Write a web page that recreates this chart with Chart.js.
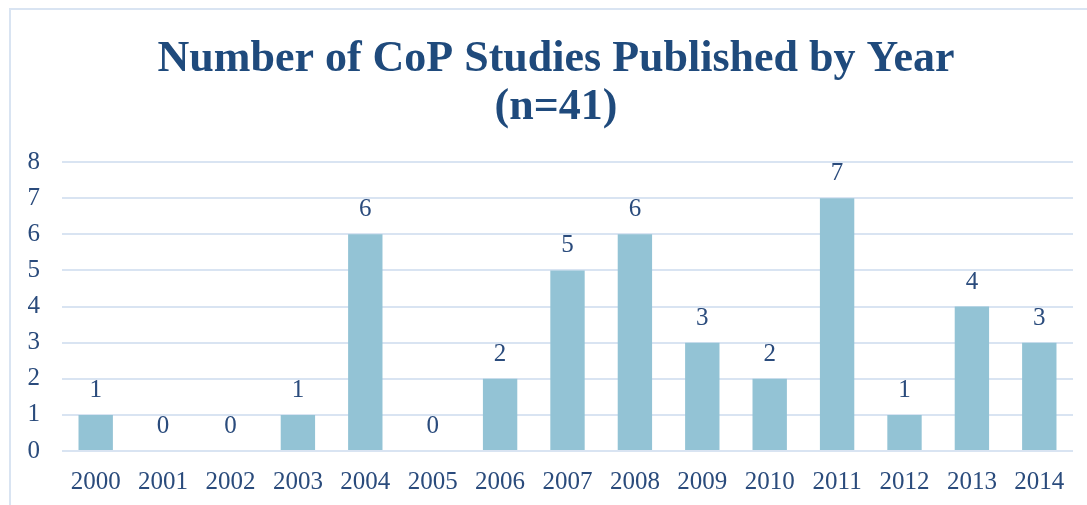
<!DOCTYPE html>
<html lang="en">
<head>
    <meta charset="UTF-8">
    <title>Number of CoP Studies Published by Year</title>
    <style>
        body {
            margin: 0;
            background-color: #fff;
            overflow: hidden;
        }
        .frame {
            position: absolute;
            left: 9px;
            top: 8px;
            width: 1100px;
            height: 520px;
            border: 2px solid #d9e4f2;
        }
        .chart-box {
            position: absolute;
            left: 0;
            top: 0;
            width: 1087px;
            height: 505px;
        }
    </style>
</head>
<body>
    <div class="frame"></div>
    <div class="chart-box"><canvas id="chart"></canvas></div>
    <script src="https://cdn.jsdelivr.net/npm/chart.js"></script>
    <script>
        const years = ['2000', '2001', '2002', '2003', '2004', '2005', '2006', '2007', '2008', '2009', '2010', '2011', '2012', '2013', '2014'];
        const studies = [1, 0, 0, 1, 6, 0, 2, 5, 6, 3, 2, 7, 1, 4, 3];
        const titleLines = ['Number of CoP Studies Published by Year', '(n=41)'];

        const textColor = '#2a4b7c';
        const fontFamily = "'Liberation Serif', 'DejaVu Serif', serif";

        // two-line title, centred a bit right of the canvas like the original frame
        const chartTitle = {
            id: 'chartTitle',
            afterDraw(chart) {
                const ctx = chart.ctx;
                ctx.save();
                ctx.font = 'bold 44px ' + fontFamily;
                ctx.fillStyle = '#1f4a7c';
                ctx.textAlign = 'center';
                ctx.textBaseline = 'middle';
                titleLines.forEach((line, i) => {
                    ctx.fillText(line, 556, 60 + i * 48);
                });
                ctx.restore();
            }
        };

        // value labels above each bar
        const valueLabels = {
            id: 'valueLabels',
            afterDatasetsDraw(chart) {
                const ctx = chart.ctx;
                const meta = chart.getDatasetMeta(0);
                ctx.save();
                ctx.font = '25px ' + fontFamily;
                ctx.fillStyle = textColor;
                ctx.textAlign = 'center';
                ctx.textBaseline = 'alphabetic';
                meta.data.forEach((bar, i) => {
                    ctx.fillText(String(studies[i]), bar.x, bar.y - 18);
                });
                ctx.restore();
            }
        };

        new Chart(document.getElementById('chart'), {
            type: 'bar',
            data: {
                labels: years,
                datasets: [{
                    data: studies,
                    backgroundColor: '#93c3d5',
                    barPercentage: 0.51,
                    categoryPercentage: 1
                }]
            },
            options: {
                responsive: true,
                maintainAspectRatio: false,
                animation: false,
                layout: { padding: { left: 0, right: 14, top: 162, bottom: 0 } },
                plugins: {
                    legend: { display: false },
                    tooltip: { enabled: false },
                    title: { display: false }
                },
                scales: {
                    x: {
                        grid: { display: false, drawTicks: false },
                        border: { display: false },
                        ticks: {
                            color: textColor,
                            font: { family: fontFamily, size: 25 },
                            padding: 16,
                            maxRotation: 0
                        },
                        afterFit(scale) { scale.height = 54; }
                    },
                    y: {
                        min: 0,
                        max: 8,
                        grid: { color: '#d9e4f2', lineWidth: 2, drawTicks: false },
                        border: { display: false },
                        ticks: {
                            stepSize: 1,
                            color: textColor,
                            font: { family: fontFamily, size: 25 },
                            padding: 22
                        },
                        afterFit(scale) { scale.width = 62; }
                    }
                }
            },
            plugins: [valueLabels, chartTitle]
        });
    </script>
</body>
</html>
